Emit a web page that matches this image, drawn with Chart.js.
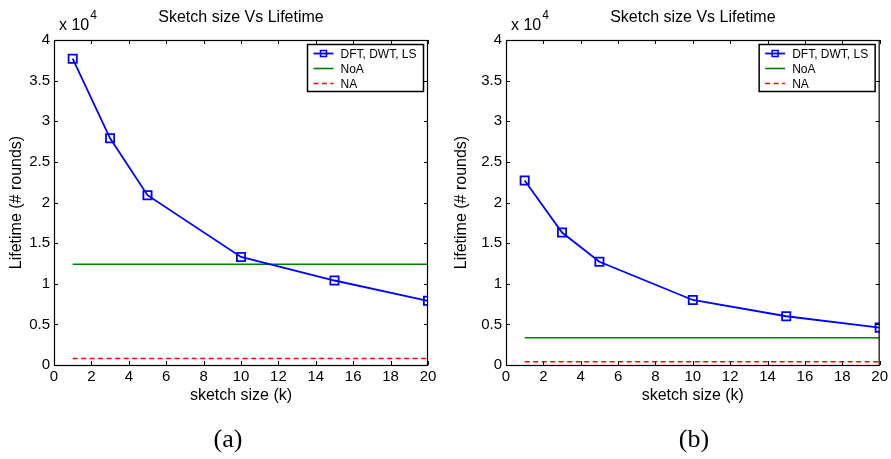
<!DOCTYPE html>
<html>
<head>
<meta charset="utf-8">
<script src="https://cdn.jsdelivr.net/npm/chart.js@4"></script>
<style>
  body { margin: 0; background: #fff; }
  #wrap { position: relative; width: 891px; height: 459px; overflow: hidden; }
  canvas { position: absolute; top: 0; }
  .cap { position: absolute; top: 424px; width: 60px; text-align: center;
         font-family: "Liberation Serif", serif; font-size: 26px; color: #000; }
</style>
</head>
<body>
<div id="wrap">
  <canvas id="chartA" width="445" height="459" style="left:0"></canvas>
  <canvas id="chartB" width="446" height="459" style="left:445px"></canvas>
  <div class="cap" style="left:198px">(a)</div>
  <div class="cap" style="left:664px">(b)</div>
</div>
<script>
// data (lifetime in rounds)
const sketchSizes = [1, 3, 5, 10, 15, 20];
const lifetimeA = [37700, 27900, 20900, 13300, 10400, 7900];
const lifetimeB = [22700, 16300, 12700, 8000, 6000, 4600];
const baseX = [1, 20];
const noaA = [12400, 12400];
const naA = [800, 800];
const noaB = [3350, 3350];
const naB = [400, 400];
const xTicks = [0, 2, 4, 6, 8, 10, 12, 14, 16, 18, 20];
const yTicks = [0, 5000, 10000, 15000, 20000, 25000, 30000, 35000, 40000];

const FONT = '"Liberation Sans", Arial, sans-serif';

function pts(xs, ys) {
    return xs.map((x, i) => ({ x: x, y: ys[i] }));
}

// frame, inward ticks, title, exponent and legend, matlab style
const framePlugin = {
    id: 'frame',
    afterDraw(chart) {
        const ctx = chart.ctx;
        const a = chart.chartArea;
        const xs = chart.scales.x, ys = chart.scales.y;
        ctx.save();
        ctx.strokeStyle = '#000';
        ctx.lineWidth = 1.2;
        ctx.strokeRect(a.left + 0.5, a.top + 0.5, a.right - a.left - 1, a.bottom - a.top);
        const tl = 4;
        ctx.lineWidth = 1;
        ctx.beginPath();
        xTicks.forEach(v => {
            const px = Math.round(xs.getPixelForValue(v)) + 0.5;
            ctx.moveTo(px, a.bottom); ctx.lineTo(px, a.bottom - tl);
            ctx.moveTo(px, a.top); ctx.lineTo(px, a.top + tl);
        });
        yTicks.forEach(v => {
            const py = Math.round(ys.getPixelForValue(v)) + 0.5;
            ctx.moveTo(a.left, py); ctx.lineTo(a.left + tl, py);
            ctx.moveTo(a.right, py); ctx.lineTo(a.right - tl, py);
        });
        ctx.stroke();

        // title
        ctx.fillStyle = '#000';
        ctx.font = '16px ' + FONT;
        ctx.textAlign = 'center';
        ctx.textBaseline = 'middle';
        ctx.fillText('Sketch size Vs Lifetime', (a.left + a.right) / 2, 18);

        // x 10^4
        ctx.textAlign = 'left';
        ctx.font = '16px ' + FONT;
        ctx.fillText('x 10', a.left + 5, 26);
        const w = ctx.measureText('x 10').width;
        ctx.font = '12px ' + FONT;
        ctx.fillText('4', a.left + 6 + w, 16);

        // legend
        const lw = 116, lh = 47;
        const lx = a.right - 4.5 - lw, ly = a.top + 4.5;
        ctx.fillStyle = '#fff';
        ctx.fillRect(lx, ly, lw, lh);
        ctx.lineWidth = 1.5;
        ctx.strokeStyle = '#000';
        ctx.strokeRect(lx, ly, lw, lh);
        ctx.font = '12px ' + FONT;
        chart.data.datasets.forEach((ds, i) => {
            const y = ly + 9 + i * 15;
            ctx.strokeStyle = ds.borderColor;
            ctx.lineWidth = ds.borderWidth;
            ctx.setLineDash(ds.borderDash || []);
            ctx.beginPath();
            ctx.moveTo(lx + 6, y); ctx.lineTo(lx + 26, y);
            ctx.stroke();
            ctx.setLineDash([]);
            if (ds.pointRadius > 0) {
                ctx.lineWidth = 1.5;
                ctx.strokeRect(lx + 13, y - 3, 6, 6);
            }
            ctx.fillStyle = '#000';
            ctx.fillText(ds.label, lx + 33, y + 1);
        });
        ctx.restore();
    }
};

function makeChart(id, lifetime, noa, na, yWidth, padRight) {
    const ctx = document.getElementById(id).getContext('2d');
    return new Chart(ctx, {
        type: 'line',
        data: {
            datasets: [{
                label: 'DFT, DWT, LS',
                data: pts(sketchSizes, lifetime),
                borderColor: '#0000ff',
                borderWidth: 1.8,
                pointStyle: 'rect',
                pointRadius: 5.8,
                pointBorderWidth: 1.8,
                pointBorderColor: '#0000ff',
                pointBackgroundColor: 'rgba(0,0,0,0)',
                fill: false
            },
            {
                label: 'NoA',
                data: pts(baseX, noa),
                borderColor: '#008000',
                borderWidth: 1.6,
                pointRadius: 0,
                fill: false
            },
            {
                label: 'NA',
                data: pts(baseX, na),
                borderColor: '#ff0000',
                borderWidth: 1.6,
                borderDash: [5, 3.5],
                pointRadius: 0,
                fill: false
            }]
        },
        options: {
            responsive: false,
            animation: false,
            devicePixelRatio: 1,
            layout: { padding: { left: 0, right: padRight, top: 40, bottom: 54 } },
            plugins: { legend: { display: false }, tooltip: { enabled: false } },
            scales: {
                x: {
                    type: 'linear',
                    min: 0, max: 20,
                    afterFit: s => { s.height = 40; },
                    afterBuildTicks: s => { s.ticks = xTicks.map(v => ({ value: v })); },
                    grid: { display: false, drawTicks: false },
                    border: { display: false },
                    ticks: { color: '#000', font: { family: FONT, size: 15 }, padding: 3, maxRotation: 0 },
                    title: { display: true, text: 'sketch size (k)', color: '#000',
                             font: { family: FONT, size: 16 }, padding: 0 }
                },
                y: {
                    min: 0, max: 40000,
                    afterFit: s => { s.width = yWidth; },
                    afterBuildTicks: s => { s.ticks = yTicks.map(v => ({ value: v })); },
                    grid: { display: false, drawTicks: false },
                    border: { display: false },
                    ticks: { color: '#000', font: { family: FONT, size: 15 }, padding: 4,
                             callback: v => String(v / 10000) },
                    title: { display: true, text: 'Lifetime (# rounds)', color: '#000',
                             font: { family: FONT, size: 16 }, padding: { top: 7, bottom: 0 } }
                }
            }
        },
        plugins: [framePlugin]
    });
}

makeChart('chartA', lifetimeA, noaA, naA, 54, 17);
makeChart('chartB', lifetimeB, noaB, naB, 61, 11);
</script>
</body>
</html>
